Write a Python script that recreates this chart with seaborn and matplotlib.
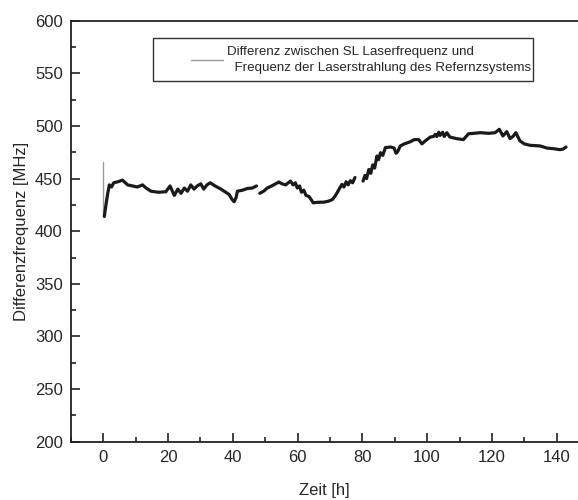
import numpy as np
import pandas as pd
import matplotlib
matplotlib.use("Agg")
import matplotlib.pyplot as plt
from matplotlib.ticker import MultipleLocator
from matplotlib.patches import Rectangle
import seaborn as sns

# --- data ---
spike_t = [0.0, 0.0]
spike_v = [466, 414]

time_h = [0.3, 0.8, 1.3, 1.85, 2.5, 3.2, 4.5, 5.9, 7.5, 9, 10.5, 12.1, 13.2, 14.7, 17, 19.3,
          20.6, 21.9, 23, 24, 25, 26, 27, 28, 29, 30.1, 31, 32, 33, 34.5, 36.3, 38.8, 39.8,
          40.4, 41, 41.4, 43, 44.5, 46, 47.3, 47.8, 48.3, 49.5, 50.6, 52, 54.2, 55.2, 56.3,
          57.8, 58.6, 59.3, 59.9, 60.6, 61.2, 61.9, 62.6, 63.5, 64.2, 64.8, 66.5, 68.1, 69.5,
          70.7, 71.5, 72.2, 73, 73.7, 74.3, 75, 75.6, 76.3, 77, 77.7, 78.9, 80.2, 80.8, 81.3,
          82, 82.6, 83.2, 83.8, 84.5, 85, 85.6, 86.3, 87.1, 88.7, 89.8, 90.4, 90.9, 91.7, 93,
          94.8, 96, 97.4, 98.4, 99.5, 101, 102, 102.5, 103, 103.6, 104, 104.8, 105.3, 106.1,
          107, 109, 111.2, 112.8, 114.5, 116.4, 119, 121, 122.3, 123.4, 124.6, 125.6, 126.5,
          127.4, 128.7, 130, 131.8, 134.9, 137, 139, 141, 142, 142.9]
freq_mhz = [414, 425, 435, 444, 442, 446, 447, 448.5, 444, 443, 442, 444, 441, 438, 437, 437.5,
            443, 434, 440, 436, 441, 438, 444, 440, 443, 445, 440, 444, 446, 443, 440, 435, 430,
            428, 432, 438, 439, 440.6, 441, 443, np.nan, 436, 438, 441, 443, 446.7, 445, 444,
            447.6, 444, 446, 441, 443, 437, 439, 434, 433, 430, 427, 427.5, 427.6, 428.5,
            430, 433, 436.5, 441, 444.5, 442, 447, 444, 448, 446, 451, np.nan, 447.6, 453, 450,
            458.7, 455, 463, 460, 471.4, 468, 474.6, 472, 479.4, 480, 479, 474, 475.6, 481, 483,
            485, 487, 487, 483, 486, 489.5, 490, 492, 490, 494, 491, 494, 490, 493.6,
            489.5, 488, 487, 492.6, 493, 493.6, 493, 493.6, 496.8, 490.5, 494.6, 488, 490,
            493.6, 485.7, 483, 481.6, 481, 479, 478.4, 477.5, 478, 480]

legend_label = "Differenz zwischen SL Laserfrequenz und\n  Frequenz der Laserstrahlung des Refernzsystems"

sns.set_style("ticks")
plt.rcParams['font.family'] = ['Liberation Sans', 'DejaVu Sans']
plt.rcParams['font.size'] = 11

fig = plt.figure(figsize=(5.78, 5.0), dpi=100)
ax = fig.add_axes([0.1228, 0.1166, 0.8772, 0.842])

df = pd.DataFrame({"t": time_h, "v": freq_mhz})
sp = pd.DataFrame({"t": spike_t, "v": spike_v})

sns.lineplot(data=sp, x="t", y="v", ax=ax, color="#9a9a9a", lw=1.0, label=legend_label,
             estimator=None, sort=False)
ax.plot(df["t"], df["v"], color="#1a1a1a", lw=2.3, solid_joinstyle="round")

ax.set_xlim(-10, 146.6)
ax.set_ylim(200, 600)
ax.xaxis.set_major_locator(MultipleLocator(20))
ax.xaxis.set_minor_locator(MultipleLocator(10))
ax.yaxis.set_major_locator(MultipleLocator(50))
ax.yaxis.set_minor_locator(MultipleLocator(25))
ax.tick_params(which="both", direction="in", color="#222222", labelsize=12, pad=6)
ax.tick_params(which="major", length=6.5, width=1.2)
ax.tick_params(which="minor", length=3.5, width=1.2)
for s in ["left", "bottom", "top"]:
    ax.spines[s].set_linewidth(1.3)
    ax.spines[s].set_color("#222222")
ax.spines["right"].set_visible(False)

ax.set_xlabel("Zeit [h]", fontsize=12, labelpad=13)
ax.set_ylabel("Differenzfrequenz [MHz]", fontsize=12, labelpad=4)

leg = ax.legend(loc="center left", bbox_to_anchor=(0.2367, 0.906), frameon=False,
                fontsize=9.6, handlelength=2.4, borderpad=0, borderaxespad=0,
                handletextpad=0.3)
for t in leg.get_texts():
    t.set_linespacing(1.45)
ax.add_patch(Rectangle((0.1617, 0.857), 0.911 - 0.1617, 0.959 - 0.857, transform=ax.transAxes,
                       fill=False, edgecolor="#333333", lw=1.0, zorder=5))

fig.savefig("out.png", dpi=100)
